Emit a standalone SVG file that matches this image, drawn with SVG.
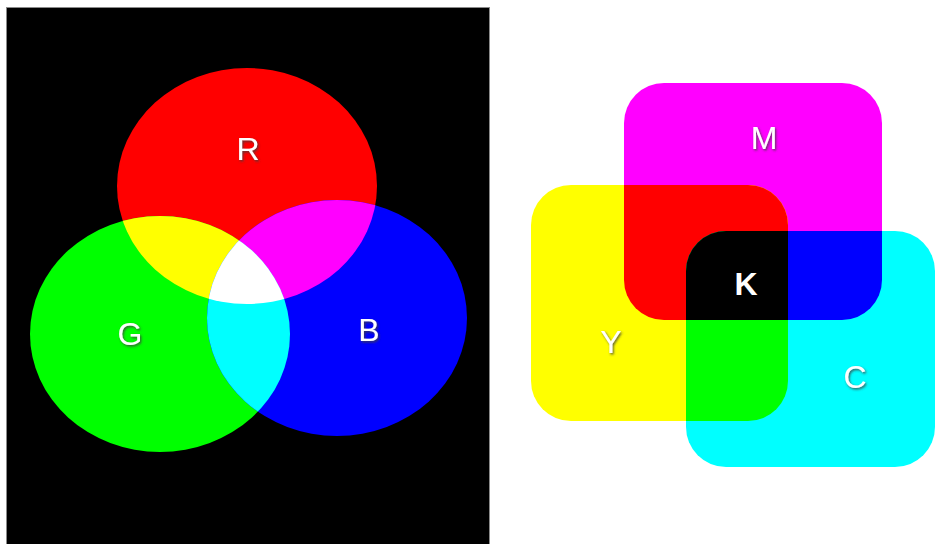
<svg xmlns="http://www.w3.org/2000/svg" width="936" height="544" viewBox="0 0 936 544">
<style>
.lbl{font-family:"Liberation Sans",Arial,sans-serif;font-size:32px;fill:#ffffff;text-anchor:middle;filter:url(#sh)}
.b{font-weight:bold;filter:none}
</style>
<defs>
<filter id="sh" x="-30%" y="-30%" width="160%" height="160%">
<feDropShadow dx="1.2" dy="1.5" stdDeviation="0.8" flood-color="#404040" flood-opacity="0.85"/>
</filter>
<ellipse id="eR" cx="247" cy="186" rx="130" ry="118"/>
<ellipse id="eG" cx="160" cy="334" rx="130" ry="118"/>
<ellipse id="eB" cx="337" cy="318" rx="130" ry="118"/>
<rect id="rM" x="624" y="83" width="258" height="237" rx="40"/>
<rect id="rY" x="531" y="185" width="257" height="236" rx="40"/>
<rect id="rC" x="686" y="231" width="249" height="236" rx="40"/>
<clipPath id="cG"><use href="#eG"/></clipPath>
<clipPath id="cB"><use href="#eB"/></clipPath>
<clipPath id="cY"><use href="#rY"/></clipPath>
<clipPath id="cC"><use href="#rC"/></clipPath>
</defs>
<rect x="0" y="0" width="936" height="544" fill="#ffffff"/>
<g id="rgb">
<rect x="6.5" y="7.5" width="483" height="540" fill="#000000" stroke="#8a8a8a" stroke-width="1"/>
<g id="red"><use href="#eR" fill="#ff0000"/></g>
<g id="green"><use href="#eG" fill="#00ff00"/></g>
<g id="blue"><use href="#eB" fill="#0000ff"/></g>
<use href="#eR" fill="#ffff00" clip-path="url(#cG)"/>
<use href="#eR" fill="#ff00ff" clip-path="url(#cB)"/>
<use href="#eG" fill="#00ffff" clip-path="url(#cB)"/>
<g clip-path="url(#cB)"><use href="#eR" fill="#ffffff" clip-path="url(#cG)"/></g>
<text class="lbl" x="248" y="160">R</text>
<text class="lbl" x="130" y="345">G</text>
<text class="lbl" x="369" y="341">B</text>
</g>
<g id="cmy">
<g id="magenta"><use href="#rM" fill="#ff00ff"/></g>
<g id="yellow"><use href="#rY" fill="#ffff00"/></g>
<g id="cyan"><use href="#rC" fill="#00ffff"/></g>
<use href="#rM" fill="#ff0000" clip-path="url(#cY)"/>
<use href="#rM" fill="#0000ff" clip-path="url(#cC)"/>
<use href="#rY" fill="#00ff00" clip-path="url(#cC)"/>
<g clip-path="url(#cC)"><use href="#rM" fill="#000000" clip-path="url(#cY)"/></g>
<text class="lbl" x="764" y="149">M</text>
<text class="lbl b" x="746" y="295">K</text>
<text class="lbl" x="611" y="353">Y</text>
<text class="lbl" x="855" y="388">C</text>
</g>
<g id="connectors"/>
</svg>
